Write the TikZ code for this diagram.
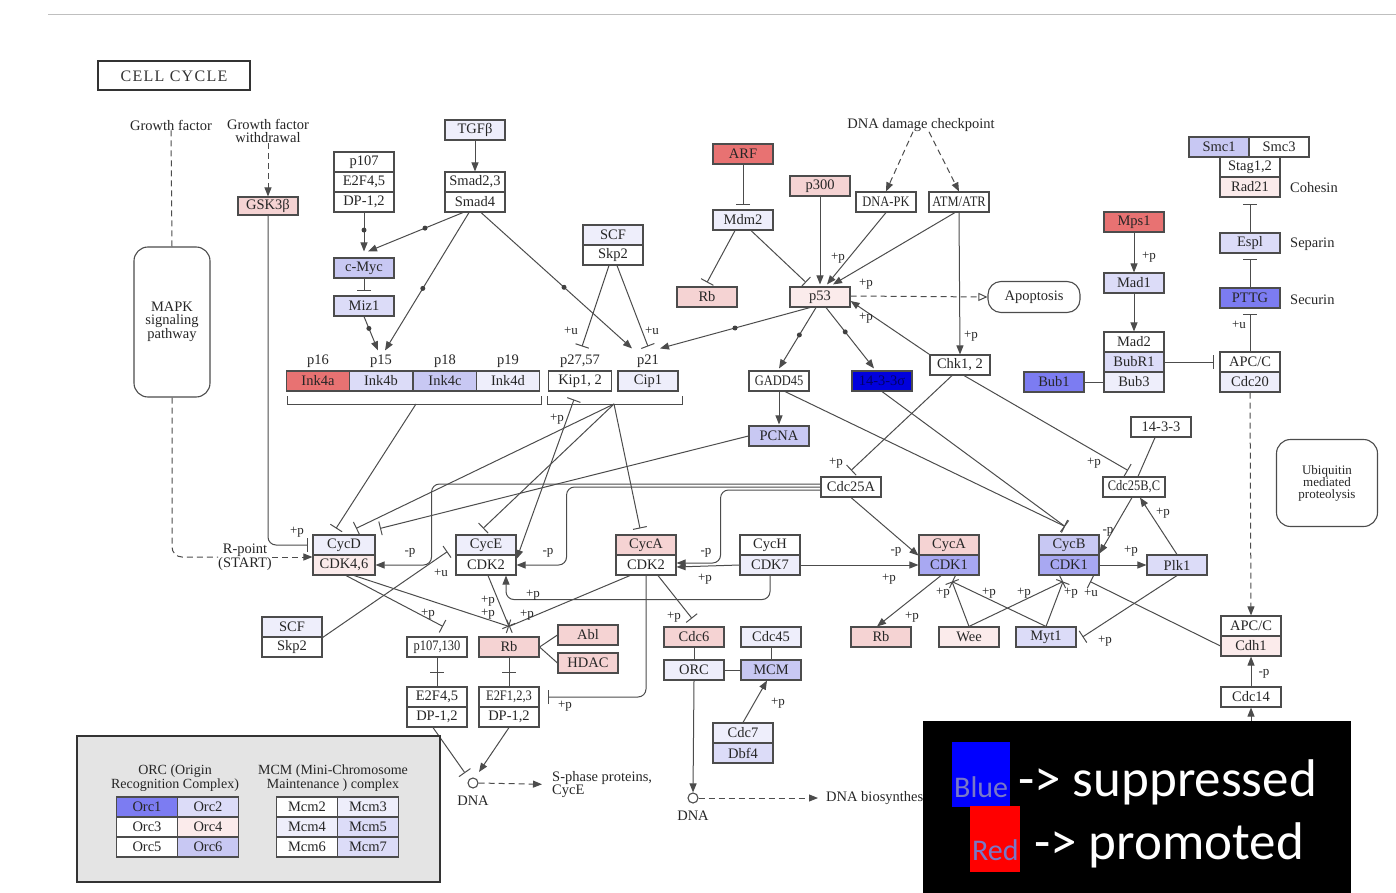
\documentclass[tikz,border=0pt]{standalone}
\usepackage{graphicx}
\usepackage{fontspec}
\setmainfont{Liberation Serif}
\newfontfamily\legendfont{Carlito}
\usetikzlibrary{arrows.meta}

% expression colours
\definecolor{upred}{HTML}{E87272}
\definecolor{uppink}{HTML}{F5D3D3}
\definecolor{upfaint}{HTML}{FBEBEB}
\definecolor{dnfaint}{HTML}{EEEEFB}
\definecolor{dnlight}{HTML}{DCDCF8}
\definecolor{dnlav}{HTML}{C8C8F3}
\definecolor{dnmid}{HTML}{A8A8F2}
\definecolor{dnstrong}{HTML}{7C7CF2}
\definecolor{dndeep}{HTML}{0000DD}
\definecolor{legendink}{HTML}{7878C8}
\definecolor{panelgray}{HTML}{E4E4E4}

\newcommand{\genefont}{\fontsize{14.5}{13}\selectfont}
\newcommand{\modfont}{\fontsize{13}{12}\selectfont}
\newcommand{\narrowtext}[1]{\scalebox{0.86}[1]{#1}}

\tikzset{
  gene/.style={draw=black!70, line width=1.1pt, fill=white, text=black!85,
    minimum width=60, minimum height=20, inner sep=0pt, font=\genefont},
  sig/.style={draw=black!70, line width=1pt},
  act/.style={sig, -{Triangle[length=9pt, width=7pt]}},
  inh/.style={sig, -{Bar[width=14pt]}},
  ind/.style={sig, dash pattern=on 6pt off 4pt},
  indact/.style={ind, -{Triangle[length=9pt, width=7pt]}},
  lbl/.style={font=\modfont, inner sep=0pt, text=black!85},
  dot/.style={circle, fill=black!75, inner sep=0pt, minimum size=5pt},
  midbar/.style={fill=black!70, inner sep=0pt, minimum width=14pt, minimum height=1pt},
  txt/.style={font=\genefont, text=black!85, align=center, inner sep=0pt},
}

\begin{document}
\begin{tikzpicture}[x=1pt, y=-1pt]
\useasboundingbox (0,0) rectangle (1396,893);

% Draw the page rule and the title
\draw[black!25, line width=1pt] (48,15) -- (1396,15);
\node[draw=black!80, line width=2pt, minimum width=152, minimum height=29, font=\fontsize{16}{16}\selectfont\addfontfeatures{LetterSpace=8}, text=black!80] (title) at (174,76) {CELL CYCLE};

% Inputs on the left
\node[txt] (gfA) at (171,125) {Growth factor};
\node[txt] (gfB) at (268,131) {Growth factor\\withdrawal};
\node[draw=black!70, line width=1.1pt, rounded corners=14pt, minimum width=76, minimum height=150, txt] (mapk) at (172,322) {MAPK\\signaling\\pathway};
\node[txt] (rpoint) at (245,557) {R-point\\(START)};
\node[gene, fill=uppink, minimum height=18] (gsk) at (268,206) {GSK3β};

\node[gene] (pA) at (364,162) {p107};
\node[gene] (pB) at (364,182) {E2F4,5};
\node[gene] (pC) at (364,202) {DP-1,2};
\node[gene, fill=dnlav] (cmyc) at (364,268) {c-Myc};
\node[gene, fill=dnlight] (miz) at (364,306) {Miz1};
\node[gene, fill=dnfaint] (tgfb) at (475,130) {TGFβ};
\node[gene] (smadA) at (475,182) {Smad2,3};
\node[gene] (smadB) at (475,202) {Smad4};
\node[gene, fill=dnfaint] (scfA) at (613,235) {SCF};
\node[gene] (scfB) at (613,255) {Skp2};

% CDK inhibitors
\foreach \nm/\xx/\lab/\gn/\col in {inkA/318/p16/Ink4a/upred, inkB/381/p15/Ink4b/dnlight, inkC/445/p18/Ink4c/dnlav, inkD/508/p19/Ink4d/dnfaint}{
  \node[gene, fill=\col, minimum width=63] (\nm) at (\xx,381) {\gn};
  \node[txt] (\nm l) at (\xx,361) {\lab};
}
\node[gene, minimum width=63] (kip) at (580,381) {Kip1, 2};
\node[gene, fill=dnfaint] (cip) at (648,381) {Cip1};
\node[txt] (kipl) at (580,361) {p27,57};
\node[txt] (cipl) at (648,361) {p21};
\draw[sig] (287,396) -- (287,404) -- (541,404) -- (541,396);
\draw[sig] (547,396) -- (547,404) -- (682,404) -- (682,396);
\coordinate (inkbr) at (416,404);
\coordinate (kipbr) at (614,404);

% p53 branch
\node[gene, fill=upred] (arf) at (743,154) {ARF};
\node[gene, fill=dnfaint] (mdm2) at (743,220) {Mdm2};
\node[gene, fill=uppink] (rbA) at (707,297) {Rb};
\node[gene, fill=uppink] (p300) at (820,186) {p300};
\node[txt] (dnadmg) at (921,125) {DNA damage checkpoint};
\node[gene] (dnapk) at (886,202) {\narrowtext{DNA-PK}};
\node[gene] (atm) at (959,202) {\narrowtext{ATM/ATR}};
\node[gene, fill=upfaint] (p53) at (820,297) {p53};
\node[draw=black!70, line width=1.1pt, rounded corners=13pt, minimum width=92, minimum height=31, txt] (apop) at (1034,297) {Apoptosis};
\node[gene] (gadd) at (779,381) {\narrowtext{GADD45}};
\node[gene, fill=dndeep, text=blue!40!black] (sfn) at (882,381) {14-3-3σ};
\node[gene] (chk) at (960,365) {Chk1, 2};
\node[gene, fill=dnlav] (pcna) at (779,436) {PCNA};
\node[gene] (cdc25a) at (851,487) {Cdc25A};

% Spindle checkpoint and cohesin
\node[gene, fill=upred] (mps) at (1134,222) {Mps1};
\node[gene, fill=dnlight] (mad1) at (1134,283) {Mad1};
\node[gene] (mad2A) at (1134,342) {Mad2};
\node[gene, fill=dnlight] (mad2B) at (1134,362) {BubR1};
\node[gene, fill=dnfaint] (mad2C) at (1134,382) {Bub3};
\node[gene, fill=dnstrong] (bub1) at (1054,382) {Bub1};
\node[gene, fill=dnlav] (smc1) at (1219,147) {Smc1};
\node[gene] (smc3) at (1279,147) {Smc3};
\node[gene] (stag) at (1250,167) {Stag1,2};
\node[gene, fill=upfaint] (rad) at (1250,187) {Rad21};
\node[gene, fill=dnlight] (espl) at (1250,243) {Espl};
\node[gene, fill=dnstrong] (pttg) at (1250,298) {PTTG};
\node[gene] (apc1A) at (1250,362) {APC/C};
\node[gene, fill=dnfaint] (apc1B) at (1250,382) {Cdc20};
\node[txt, anchor=west] (cohl) at (1290,188) {Cohesin};
\node[txt, anchor=west] (sepl) at (1290,244) {Separin};
\node[txt, anchor=west] (secl) at (1290,300) {Securin};
\node[gene] (s1433) at (1161,427) {14-3-3};
\node[gene, minimum width=62] (cdc25bc) at (1134,487) {\narrowtext{Cdc25B,C}};
\node[draw=black!70, line width=1.1pt, rounded corners=14pt, minimum width=101, minimum height=87, txt, font=\modfont] (ubiq) at (1327,483) {Ubiquitin\\mediated\\proteolysis};

% Cyclin / CDK complexes
\node[gene, fill=dnfaint, minimum width=62] (cycdA) at (344,545) {CycD};
\node[gene, fill=upfaint, minimum width=62] (cycdB) at (344,565) {CDK4,6};
\node[gene, fill=dnfaint] (cyceA) at (486,545) {CycE};
\node[gene] (cyceB) at (486,565) {CDK2};
\node[gene, fill=uppink] (cyc2A) at (646,545) {CycA};
\node[gene] (cyc2B) at (646,565) {CDK2};
\node[gene] (cychA) at (770,545) {CycH};
\node[gene, fill=dnfaint] (cychB) at (770,565) {CDK7};
\node[gene, fill=uppink] (cyc1A) at (949,545) {CycA};
\node[gene, fill=dnmid] (cyc1B) at (949,565) {CDK1};
\node[gene, fill=dnlav] (cycbA) at (1069,545) {CycB};
\node[gene, fill=dnmid] (cycbB) at (1069,565) {CDK1};
\node[gene, fill=dnlight] (plk) at (1177,565) {Plk1};

% G1/S targets
\node[gene, fill=dnfaint] (scf2A) at (292,627) {SCF};
\node[gene] (scf2B) at (292,647) {Skp2};
\node[gene] (pbA) at (437,647) {\narrowtext{p107,130}};
\node[gene, fill=uppink] (rbB) at (509,647) {Rb};
\node[gene, fill=uppink] (abl) at (588,635) {Abl};
\node[gene, fill=uppink] (hdac) at (588,663) {HDAC};
\node[gene] (e2fA) at (437,697) {E2F4,5};
\node[gene] (e2fB) at (437,717) {DP-1,2};
\node[gene] (e2gA) at (509,697) {\narrowtext{E2F1,2,3}};
\node[gene] (e2gB) at (509,717) {DP-1,2};
\node[gene, fill=uppink] (cdc6) at (694,637) {Cdc6};
\node[gene, fill=dnfaint] (cdc45) at (771,637) {Cdc45};
\node[gene, fill=dnfaint] (orc) at (694,670) {ORC};
\node[gene, fill=dnlav] (mcm) at (771,670) {MCM};
\node[gene, fill=dnfaint] (cdc7) at (743,733) {Cdc7};
\node[gene, fill=dnlight] (dbf4) at (743,753) {Dbf4};
\node[circle, draw=black!70, line width=1.1pt, minimum size=10pt, inner sep=0pt] (dnaA) at (473,783) {};
\node[txt] (dnaAl) at (473,801) {DNA};
\node[txt, anchor=north west, align=left] (sph) at (552,771) {S-phase proteins,\\CycE};
\node[circle, draw=black!70, line width=1.1pt, minimum size=10pt, inner sep=0pt] (dnaB) at (693,798) {};
\node[txt] (dnaBl) at (693,816) {DNA};
\node[txt, anchor=west] (bio) at (826,798) {DNA biosynthesis};

% G2/M targets
\node[gene, fill=uppink] (rbC) at (881,637) {Rb};
\node[gene, fill=upfaint] (wee) at (969,637) {Wee};
\node[gene, fill=dnlight] (myt) at (1046,637) {Myt1};
\node[gene] (apcA) at (1251,626) {APC/C};
\node[gene, fill=upfaint] (apcB) at (1251,646) {Cdh1};
\node[gene] (cdc14) at (1251,697) {Cdc14};
\coordinate (cdc14in) at (1251,722);

% Draw the upper left signals
\draw[ind] (gfA.south) -- (mapk.north);
\draw[indact] (gfB.south) -- (gsk.north);
\draw[ind, rounded corners=10pt] (mapk.south) |- (rpoint.west);
\draw[indact] (rpoint.east) -- (rpoint.east -| cycdA.west);
\draw[inh, rounded corners=8pt] (gsk.south) |- ([xshift=-4pt]cycdA.west);
\node[lbl] at (297,532) {+p};
\draw[act] (pC.south) -- node[dot, pos=0.45]{} ([yshift=6pt]cmyc.north);
\draw[act] ([xshift=-12pt]smadB.south) -- node[dot, pos=0.4]{} ([xshift=4pt,yshift=6pt]cmyc.north);
\draw[inh] (cmyc.south) -- ([yshift=4pt]miz.north);
\draw[act] (miz.south) -- node[dot, pos=0.35]{} ([xshift=-3pt,yshift=20pt]inkB.north);
\draw[act] ([xshift=-6pt]smadB.south) -- node[dot, pos=0.55]{} ([xshift=4pt,yshift=20pt]inkB.north);
\draw[act] (tgfb.south) -- (smadA.north);
\draw[act] ([xshift=6pt]smadB.south) -- node[dot, pos=0.55]{} ([xshift=-16pt,yshift=22pt]cip.north);
\draw[inh] ([xshift=-4pt]scfB.south) -- ([xshift=2pt,yshift=24pt]kip.north);
\draw[inh] ([xshift=4pt]scfB.south) -- ([yshift=24pt]cip.north);
\node[lbl] at (571,331) {+u};
\node[lbl] at (652,331) {+u};

% Draw the p53 branch
\draw[indact] ([xshift=-8pt]dnadmg.south) -- (dnapk.north);
\draw[indact] ([xshift=8pt]dnadmg.south) -- (atm.north);
\draw[inh] (arf.south) -- ([yshift=4pt]mdm2.north);
\draw[inh] ([xshift=-8pt]mdm2.south) -- ([yshift=4pt]rbA.north);
\draw[inh] ([xshift=8pt]mdm2.south) -- ([xshift=-14pt,yshift=4pt]p53.north);
\draw[act] (p300.south) -- ([yshift=2pt]p53.north);
\draw[act] (dnapk.south) -- ([xshift=7pt,yshift=2pt]p53.north);
\draw[act] ([xshift=-4pt]atm.south) -- ([xshift=13pt,yshift=2pt]p53.north);
\draw[act] (atm.south) -- (chk.north);
\draw[act] (chk.north west) -- ([yshift=-4pt]p53.east);
\draw[ind, -{Triangle[open, length=9pt, width=8pt]}] ([yshift=1pt]p53.east) -- (apop.west);
\draw[act] ([xshift=-10pt]p53.south) -- node[dot, pos=0.5]{} ([xshift=12pt,yshift=22pt]cip.north);
\draw[act] ([xshift=-4pt]p53.south) -- node[dot, pos=0.45]{} ([yshift=2pt]gadd.north);
\draw[act] ([xshift=6pt]p53.south) -- node[dot, pos=0.4]{} ([xshift=-8pt,yshift=2pt]sfn.north);
\node[lbl] at (838,258) {+p};
\node[lbl] at (866,284) {+p};
\node[lbl] at (866,318) {+p};
\node[lbl] at (971,336) {+p};
\draw[act] (gadd.south) -- ([yshift=1pt]pcna.north);
\draw[inh] ([xshift=6pt]gadd.south) -- ([xshift=-4pt,yshift=8pt]cycbA.north);
\draw[inh] (sfn.south) -- ([xshift=-4pt,yshift=8pt]cycbA.north);
\draw[inh] ([xshift=-8pt]chk.south) -- ([yshift=6pt]cdc25a.north);
\draw[inh] ([xshift=4pt]chk.south) -- ([xshift=-6pt,yshift=6pt]cdc25bc.north);
\node[lbl] at (836,463) {+p};
\node[lbl] at (1094,463) {+p};
\draw[sig] ([xshift=-6pt]s1433.south) -- ([xshift=4pt]cdc25bc.north);

% Draw the spindle checkpoint and cohesin links
\draw[act] (mps.south) -- (mad1.north);
\node[lbl] at (1149,257) {+p};
\draw[act] (mad1.south) -- (mad2A.north);
\draw[sig] (bub1.east) -- (mad2C.west);
\draw[inh] (mad2B.east) -- ([xshift=-5pt]apc1A.west);
\draw[inh] (apc1A.north) -- ([yshift=-5pt]pttg.south);
\node[lbl] at (1239,325) {+u};
\draw[inh] (pttg.north) -- ([yshift=-5pt]espl.south);
\draw[inh] (espl.north) -- ([yshift=-6pt]rad.south);
\draw[indact] (apc1B.south) -- (apcA.north);

% Draw the inhibitors of the cyclin complexes
\draw[inh] (inkbr) -- ([xshift=-8pt,yshift=6pt]cycdA.north);
\draw[inh] (kipbr) -- ([xshift=12pt,yshift=6pt]cycdA.north);
\draw[inh] (kipbr) -- ([xshift=-3pt,yshift=6pt]cyceA.north);
\draw[inh] (kipbr) -- ([xshift=-6pt,yshift=6pt]cyc2A.north);
\draw[inh] (pcna.west) -- ([xshift=36pt,yshift=6pt]cycdA.north);
\draw[sig, {Bar[width=14pt]}-{Triangle[length=9pt, width=7pt]}] ([xshift=-6pt,yshift=-8pt]kip.south) -- ([yshift=6pt]cyceB.east);
\node[lbl] at (557,419) {+p};
\draw[inh] (scf2A.south east) -- ([xshift=-8pt,yshift=4pt]cyceA.south west);
\node[lbl] at (441,573) {+u};

% Draw the activating phosphatases and kinases
\draw[act, rounded corners=8pt] ([yshift=3pt]cdc25a.west) -| ([xshift=56pt]cycdB.east) -- (cycdB.east);
\draw[act, rounded corners=8pt] (cdc25a.west) -| ([xshift=50pt]cyceB.east) -- (cyceB.east);
\draw[act, rounded corners=8pt] ([yshift=-3pt]cdc25a.west) -| ([xshift=44pt,yshift=2pt]cyc2B.east) -- ([yshift=2pt]cyc2B.east);
\draw[act] (cdc25a.south) -- (cyc1A.south west);
\node[lbl] at (410,553) {-p};
\node[lbl] at (548,553) {-p};
\node[lbl] at (706,553) {-p};
\node[lbl] at (896,552) {-p};
\draw[act] (cychB.west) -- ([yshift=-2pt]cyc2B.east);
\draw[act] (cychB.east) -- (cyc1B.west);
\draw[act, rounded corners=8pt] (cychB.south) -- ++(0,24) -| ([xshift=20pt]cyceB.south);
\node[lbl] at (705,579) {+p};
\node[lbl] at (889,579) {+p};
\node[lbl] at (533,595) {+p};

% Draw the G1/S targets
\draw[inh] ([xshift=2pt]cycdB.south) -- ([xshift=6pt,yshift=10pt]pbA.north);
\draw[inh] ([xshift=10pt]cycdB.south) -- ([yshift=10pt]rbB.north);
\draw[inh] ([xshift=2pt]cyceB.south) -- ([yshift=10pt]rbB.north);
\draw[inh] ([xshift=-16pt]cyc2B.south) -- ([yshift=10pt]rbB.north);
\node[lbl] at (428,614) {+p};
\node[lbl] at (488,601) {+p};
\node[lbl] at (488,614) {+p};
\node[lbl] at (527,615) {+p};
\draw[inh, rounded corners=8pt] (cyc2B.south) |- ([xshift=8pt]e2gA.east);
\node[lbl] at (565,706) {+p};
\draw[inh] ([xshift=12pt]cyc2B.south) -- ([xshift=-2pt,yshift=8pt]cdc6.north);
\node[lbl] at (674,617) {+p};
\draw[sig] (rbB.east) -- (abl.west);
\draw[sig] (rbB.east) -- (hdac.west);
\draw[sig] (pbA.south) -- node[midbar]{} (e2fA.north);
\draw[sig] (rbB.south) -- node[midbar]{} (e2gA.north);
\draw[inh] ([xshift=-4pt]e2fB.south) -- ([xshift=-8pt,yshift=10pt]dnaA.center);
\draw[act] (e2gB.south) -- ([xshift=6pt,yshift=11pt]dnaA.center);
\draw[indact] (dnaA.east) -- ([xshift=-10pt]sph.west);
\draw[sig] (cdc6.south) -- (orc.north);
\draw[sig] (cdc45.south) -- (mcm.north);
\draw[sig] (orc.east) -- (mcm.west);
\draw[act] (cdc7.north) -- ([xshift=-4pt]mcm.south);
\node[lbl] at (778,703) {+p};
\draw[act] (orc.south) -- (dnaB.north);
\draw[indact] (dnaB.east) -- ([xshift=-8pt]bio.west);

% Draw the G2/M targets
\draw[act] ([xshift=-8pt]cyc1B.south) -- ([xshift=-4pt]rbC.north);
\node[lbl] at (912,617) {+p};
\draw[inh] (wee.north) -- ([xshift=3pt,yshift=-6pt]cyc1B.south);
\draw[inh] (wee.north) -- ([xshift=-6pt,yshift=-6pt]cycbB.south);
\draw[inh] (myt.north) -- ([xshift=3pt,yshift=-6pt]cyc1B.south);
\draw[inh] (myt.north) -- ([xshift=-6pt,yshift=-6pt]cycbB.south);
\node[lbl] at (943,593) {+p};
\node[lbl] at (989,593) {+p};
\node[lbl] at (1024,593) {+p};
\node[lbl] at (1071,593) {+p};
\node[lbl] at (1091,593) {+u};
\draw[act] ([xshift=-2pt]cdc25bc.south) -- ([yshift=1pt]cycbB.north east);
\node[lbl] at (1108,532) {-p};
\draw[act] (plk.north) -- ([xshift=6pt]cdc25bc.south);
\node[lbl] at (1163,513) {+p};
\draw[act] (cycbB.east) -- (plk.west);
\node[lbl] at (1131,551) {+p};
\draw[inh] (plk.south) -- ([xshift=6pt]myt.east);
\node[lbl] at (1105,641) {+p};
\draw[inh] (apcB.west) -- ([xshift=21pt,yshift=-6pt]cycbB.south);
\draw[act] (cdc14.north) -- (apcB.south);
\node[lbl] at (1264,674) {-p};
\draw[act] (cdc14in) -- (cdc14.south);

% ORC / MCM panel
\node[draw=black!80, line width=2pt, fill=panelgray, minimum width=363, minimum height=146, inner sep=0pt] (orcpanel) at (258,809) {};
\node[txt, font=\fontsize{14}{12}\selectfont] (orctitle) at (175,778) {ORC (Origin\\Recognition Complex)};
\node[txt, font=\fontsize{14}{12}\selectfont] (mcmtitle) at (333,778) {MCM (Mini-Chromosome\\Maintenance ) complex};
\foreach \gn/\xx/\yy/\col in {Orc1/147/807/dnstrong, Orc2/208/807/dnlight, Orc3/147/827/white, Orc4/208/827/upfaint, Orc5/147/847/white, Orc6/208/847/dnlav,
  Mcm2/307/807/white, Mcm3/368/807/dnfaint, Mcm4/307/827/dnfaint, Mcm5/368/827/dnlight, Mcm6/307/847/white, Mcm7/368/847/dnlight}
  \node[gene, fill=\col, minimum width=61] (\gn) at (\xx,\yy) {\gn};

% Legend
\fill[black] (923,721) rectangle (1351,893);
\fill[blue] (952,742) rectangle (1010,807);
\fill[red] (970,806) rectangle (1020,872);
\node[anchor=base west, inner sep=0pt, text=legendink, font=\legendfont\fontsize{30}{30}\selectfont] (bluel) at (954,797) {Blue};
\node[anchor=base west, inner sep=0pt, text=legendink, font=\legendfont\fontsize{30}{30}\selectfont] (redl) at (972,860) {Red};
\node[anchor=base west, inner sep=0pt, text=white, font=\legendfont\fontsize{53}{53}\selectfont] (suppl) at (1018,796) {-> suppressed};
\node[anchor=base west, inner sep=0pt, text=white, font=\legendfont\fontsize{53}{53}\selectfont] (proml) at (1034,859) {-> promoted};

\end{tikzpicture}
\end{document}
